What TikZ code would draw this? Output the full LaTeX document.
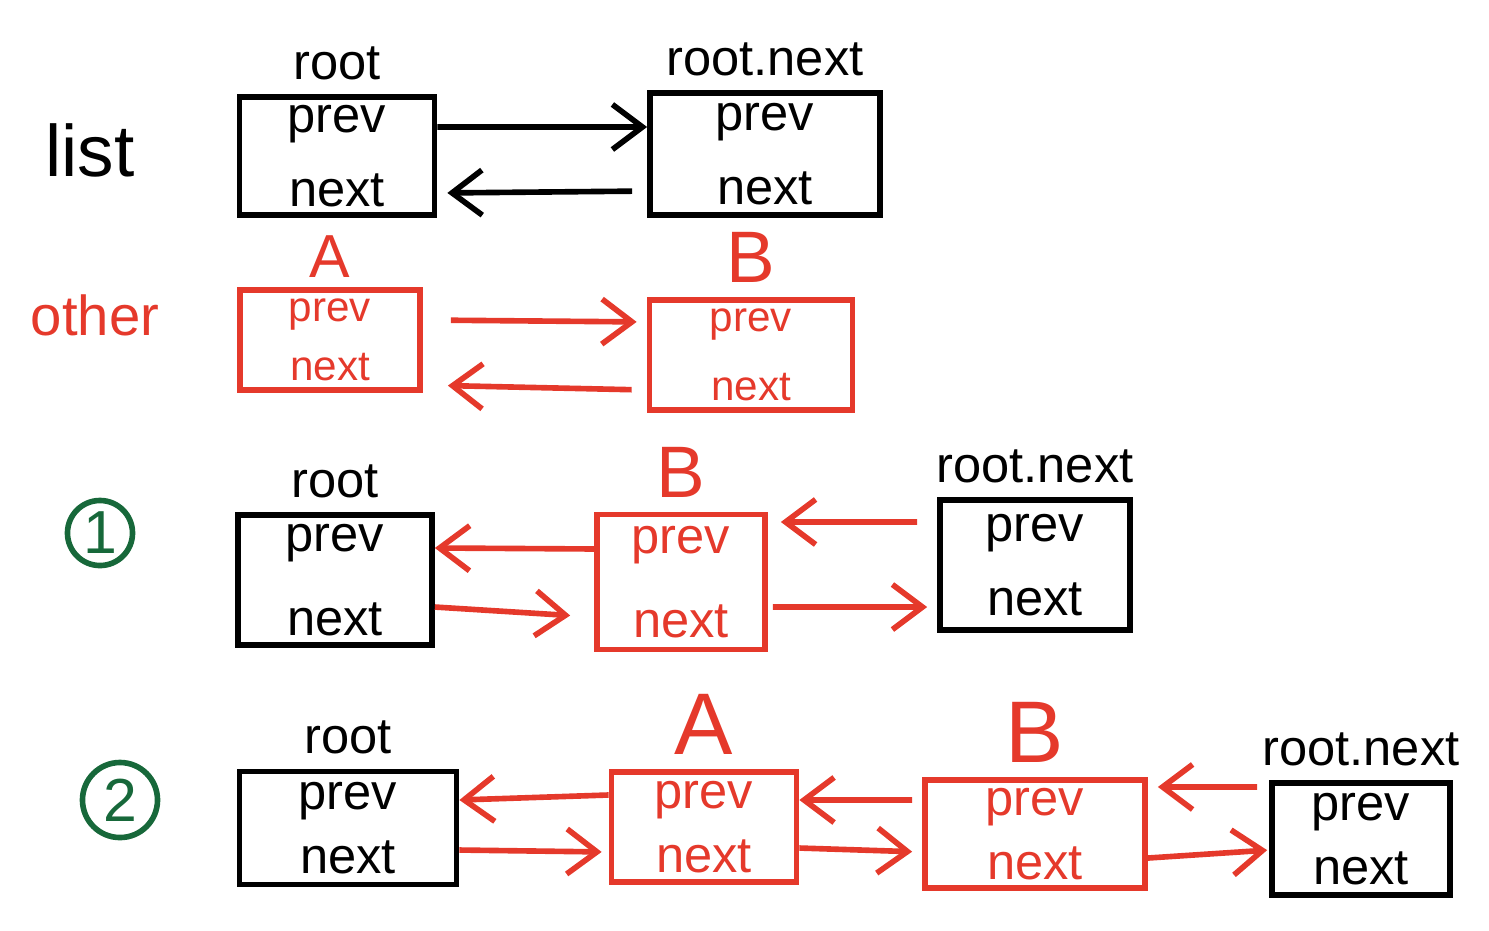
\documentclass[tikz,border=0pt]{standalone}
\usepackage{fontspec}
\setmainfont{Liberation Sans}
\usetikzlibrary{arrows.meta, positioning}
\definecolor{inkred}{HTML}{E5392B}
\definecolor{inkgreen}{HTML}{17683A}

\begin{document}
\begin{tikzpicture}[
  x=0.01cm, y=-0.01cm,
  node distance=1mm,
  cell/.style={draw, line width=1.6pt, align=center, font=\Large, inner sep=0pt},
  redcell/.style={cell, draw=inkred, text=inkred},
  tag/.style={font=\Large, inner sep=1pt},
  redtag/.style={font=\huge, text=inkred, inner sep=1pt},
  rowtag/.style={font=\huge},
  numtag/.style={circle, draw=inkgreen, text=inkgreen, line width=1.6pt, font=\LARGE, inner sep=0pt},
  arr/.style={-{Straight Barb[length=3mm, width=4.5mm]}, line width=1.6pt},
  redarr/.style={arr, draw=inkred}
]
\useasboundingbox (0,0) rectangle (1489,930);

% list
\node[rowtag] (tlist) at (90,150) {list};
\node[cell, minimum width=1.95cm, minimum height=1.18cm] (l1root) at (337,156) {prev\\[1mm]next};
\node[cell, minimum width=2.30cm, minimum height=1.22cm] (l1next) at (765,154) {prev\\[1mm]next};
\node[tag, above=of l1root] {root};
\node[tag, above=of l1next] {root.next};
\draw[arr] ([yshift=0.29cm]l1root.east) -- ([yshift=0.27cm]l1next.west);
\draw[arr, shorten <=1.5mm, shorten >=1mm] ([yshift=-0.37cm]l1next.west) -- ([yshift=-0.37cm]l1root.east);

% other
\node[rowtag, font=\fontsize{16}{19}\selectfont, text=inkred] (tother) at (95,315) {other};
\node[redcell, font=\large, minimum width=1.80cm, minimum height=1.00cm] (l2a) at (330,340) {prev\\[1mm]next};
\node[redcell, font=\large, minimum width=2.03cm, minimum height=1.10cm] (l2b) at (751,355) {prev\\[2mm]next};
\node[redtag, font=\LARGE, above=0.5mm of l2a] {A};
\node[redtag, above=of l2b] {B};
\draw[redarr, shorten <=2.8mm, shorten >=1mm] ([yshift=0.20cm]l2a.east) -- ([yshift=0.33cm]l2b.west);
\draw[redarr, shorten <=1.5mm, shorten >=2.5mm] ([yshift=-0.35cm]l2b.west) -- ([yshift=-0.45cm]l2a.east);

% step 1
\node[numtag, minimum size=6.5mm] (tone) at (100,533) {1};
\node[cell, minimum width=1.94cm, minimum height=1.30cm] (l3root) at (335,580) {prev\\[2mm]next};
\node[redcell, minimum width=1.68cm, minimum height=1.35cm] (l3b) at (681,582) {prev\\[2mm]next};
\node[cell, minimum width=1.90cm, minimum height=1.30cm] (l3next) at (1035,565) {prev\\[1mm]next};
\node[tag, above=of l3root] {root};
\node[redtag, above=of l3b] {B};
\node[tag, above=of l3next] {root.next};
\draw[redarr] ([yshift=0.33cm]l3b.west) -- ([yshift=0.32cm]l3root.east);
\draw[redarr, shorten >=2.4mm] ([yshift=-0.27cm]l3root.east) -- ([yshift=-0.35cm]l3b.west);
\draw[redarr, shorten <=2mm, shorten >=1.3mm] ([yshift=0.43cm]l3next.west) -- ([yshift=0.60cm]l3b.east);
\draw[redarr, shorten <=0.5mm, shorten >=1mm] ([yshift=-0.25cm]l3b.east) -- ([yshift=-0.42cm]l3next.west);

% step 2
\node[numtag, minimum size=7.5mm] (ttwo) at (120,800) {2};
\node[cell, minimum width=2.17cm, minimum height=1.13cm] (l4root) at (348,828) {prev\\next};
\node[redcell, minimum width=1.85cm, minimum height=1.10cm] (l4a) at (704,827) {prev\\next};
\node[redcell, minimum width=2.20cm, minimum height=1.08cm] (l4b) at (1035,834) {prev\\next};
\node[cell, minimum width=1.78cm, minimum height=1.12cm] (l4next) at (1361,839) {prev\\next};
\node[tag, above=of l4root] {root};
\node[redtag, font=\Huge, above=of l4a] {A};
\node[redtag, font=\Huge, above=of l4b] {B};
\node[tag, above=of l4next] {root.next};
\draw[redarr] ([yshift=0.32cm]l4a.west) -- ([yshift=0.28cm]l4root.east);
\draw[redarr, shorten >=0.7mm] ([yshift=-0.22cm]l4root.east) -- ([yshift=-0.25cm]l4a.west);
\draw[redarr, shorten <=1mm] ([yshift=0.34cm]l4b.west) -- ([yshift=0.27cm]l4a.east);
\draw[redarr, shorten >=1mm] ([yshift=-0.21cm]l4a.east) -- ([yshift=-0.18cm]l4b.west);
\draw[redarr, shorten <=1.2mm, shorten >=1mm] ([yshift=0.52cm]l4next.west) -- ([yshift=0.47cm]l4b.east);
\draw[redarr, shorten >=0.2mm] ([yshift=-0.24cm]l4b.east) -- ([yshift=-0.11cm]l4next.west);
\end{tikzpicture}
\end{document}
